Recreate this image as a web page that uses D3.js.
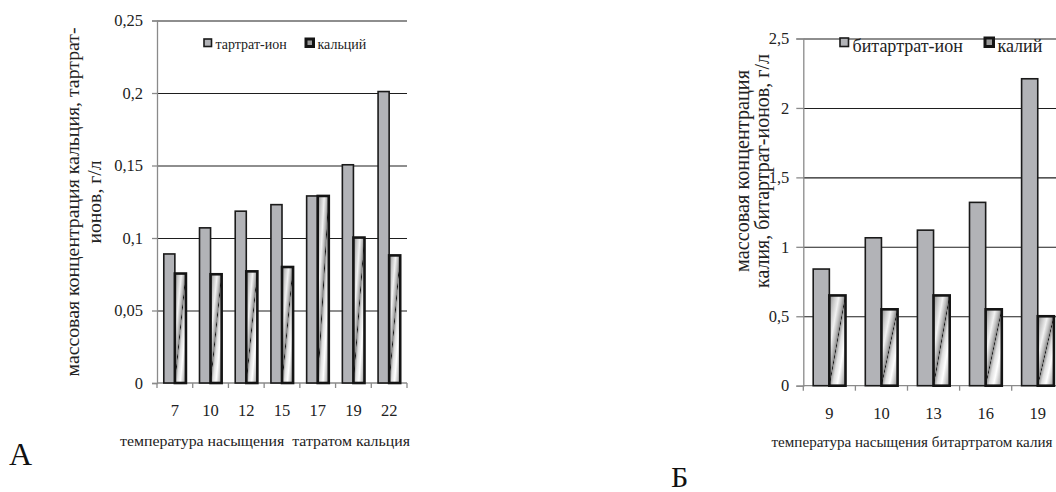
<!DOCTYPE html>
<html><head><meta charset="utf-8">
<script src="https://cdn.jsdelivr.net/npm/d3@7/dist/d3.min.js"></script>
<style>
html,body{margin:0;padding:0;background:#fff;}
svg{display:block;}
svg text{white-space:pre;font-family:"Liberation Serif","DejaVu Serif","Times New Roman",serif !important;}
</style></head>
<body>
<svg id="c" width="1056" height="492"></svg>
<script>
// ---- Chart A data ----
const catsA = ["7","10","12","15","17","19","22"];
const tartrateA = [0.089, 0.107, 0.1185, 0.123, 0.129, 0.1505, 0.201];
const calciumA = [0.0755, 0.075, 0.077, 0.08, 0.129, 0.1003, 0.088];
const ticksA = [0, 0.05, 0.1, 0.15, 0.2, 0.25];
// ---- Chart Б data ----
const catsB = ["9","10","13","16","19"];
const bitartrateB = [0.84, 1.065, 1.12, 1.32, 2.21];
const potassiumB = [0.65, 0.55, 0.65, 0.55, 0.5];
const ticksB = [0, 0.5, 1, 1.5, 2, 2.5];

const fmt = d3.formatLocale({decimal:",", thousands:" ", grouping:[3], currency:["",""]}).format("~g");
const svg = d3.select("#c");
const defs = svg.append("defs");
const grad = defs.append("linearGradient").attr("id","hatch")
  .attr("gradientUnits","objectBoundingBox").attr("x1",0).attr("y1",0).attr("x2",1).attr("y2",1);
[[0,"#8a8a8a"],[0.15,"#c4c4c4"],[0.3,"#f2f2f2"],[0.42,"#b8b8b8"],[0.485,"#8c8c8c"],[0.5,"#111111"],[0.515,"#9a9a9a"],
 [0.6,"#dedede"],[0.74,"#ffffff"],[0.88,"#c2c2c2"],[1,"#8e8e8e"]].forEach(([o,c])=>grad.append("stop").attr("offset",o).attr("stop-color",c));

function chart(cfg){
  const g = svg.append("g");
  const x = d3.scaleBand().domain(cfg.cats).range([cfg.x0, cfg.x1]);
  const y = d3.scaleLinear().domain([0, cfg.ticks[cfg.ticks.length-1]]).range([cfg.y0, cfg.yTop]);
  const bw = x.bandwidth(), barW = bw*0.31;
  // gridlines
  g.append("g").attr("transform",`translate(${cfg.x0},0)`)
    .call(d3.axisLeft(y).tickValues(cfg.ticks.slice(1)).tickSize(-(cfg.gridEnd-cfg.x0)).tickFormat(""))
    .call(s=>s.select(".domain").remove())
    .call(s=>s.selectAll("line").attr("stroke","#1e1e1e").attr("stroke-width",1.1));
  // y axis
  g.append("g").attr("transform",`translate(${cfg.x0},0)`)
    .call(d3.axisLeft(y).tickValues(cfg.ticks).tickSize(cfg.tick).tickPadding(cfg.pad).tickFormat(fmt))
    .call(s=>s.select(".domain").attr("stroke","#8a8a8a").attr("stroke-width",1.3))
    .call(s=>s.selectAll("line").attr("stroke","#8a8a8a").attr("stroke-width",1.3))
    .call(s=>s.selectAll("text").attr("font-size",cfg.tickFs).attr("fill","#222"));
  // x axis line + boundary ticks
  g.append("line").attr("x1",cfg.x0).attr("x2",cfg.gridEnd).attr("y1",y(0)).attr("y2",y(0))
    .attr("stroke","#8a8a8a").attr("stroke-width",1.3);
  const bounds = cfg.cats.map(c=>x(c)).concat([cfg.x1]);
  g.selectAll(".bt").data(bounds).join("line").attr("x1",d=>d).attr("x2",d=>d)
    .attr("y1",y(0)).attr("y2",y(0)+5).attr("stroke","#8a8a8a").attr("stroke-width",1.3);
  g.append("g").attr("transform",`translate(0,${y(0)})`)
    .call(d3.axisBottom(x).tickSize(0).tickPadding(cfg.xPad))
    .call(s=>s.select(".domain").remove())
    .call(s=>s.selectAll("text").attr("font-size",cfg.tickFs).attr("fill","#222"));
  // bars
  g.selectAll(".b1").data(cfg.cats).join("rect")
    .attr("x",(c)=>x(c)+bw/2-barW).attr("width",barW)
    .attr("y",(c,i)=>y(cfg.s1[i])).attr("height",(c,i)=>y(0)-y(cfg.s1[i]))
    .attr("fill","#b2b3b7").attr("stroke","#1a1a1a").attr("stroke-width",1.6);
  g.selectAll(".b2").data(cfg.cats).join("rect")
    .attr("x",(c)=>x(c)+bw/2).attr("width",barW)
    .attr("y",(c,i)=>y(cfg.s2[i])).attr("height",(c,i)=>y(0)-y(cfg.s2[i]))
    .attr("fill","url(#hatch)").attr("stroke","#141414").attr("stroke-width",2.6);
  // legend
  const L = cfg.legend;
  g.append("rect").attr("x",L.x1).attr("y",L.sy).attr("width",L.s).attr("height",L.s)
    .attr("fill","#b2b3b7").attr("stroke","#1a1a1a").attr("stroke-width",1.6);
  g.append("text").attr("x",L.x1+L.s+4).attr("y",L.by).attr("font-size",L.fs).attr("fill","#222").text(cfg.n1);
  g.append("rect").attr("x",L.x2).attr("y",L.sy).attr("width",L.s).attr("height",L.s)
    .attr("fill","#9a9a9a").attr("stroke","#141414").attr("stroke-width",3);
  g.append("text").attr("x",L.x2+L.s+4).attr("y",L.by).attr("font-size",L.fs).attr("fill","#222").text(cfg.n2);
  // y title
  cfg.ytitle.forEach((t,i)=>{
    g.append("text").attr("transform",`translate(${cfg.ytX[i]},${cfg.ytY}) rotate(-90)`)
      .attr("text-anchor","middle").attr("font-size",cfg.ytFs).attr("fill","#222")
      .attr("textLength",cfg.ytLen[i]).attr("lengthAdjust","spacingAndGlyphs").text(t);
  });
  // x title
  g.append("text").attr("x",cfg.xtX).attr("y",cfg.xtY).attr("text-anchor","middle")
    .attr("font-size",cfg.xtFs).attr("fill","#222")
    .attr("textLength",cfg.xtLen).attr("lengthAdjust","spacingAndGlyphs").text(cfg.xtitle);
  // panel letter
  g.append("text").attr("x",cfg.letter[0]).attr("y",cfg.letter[1]).attr("font-size",cfg.letter[3]).attr("fill","#111").text(cfg.letter[2]);
}

chart({cats:catsA, s1:tartrateA, s2:calciumA, ticks:ticksA,
  x0:157, x1:407, gridEnd:407, y0:383, yTop:20.5, tick:5, pad:9, xPad:21, tickFs:16.5,
  n1:"тартрат-ион", n2:"кальций",
  legend:{x1:204, x2:306, sy:39, s:7.5, by:48.5, fs:14},
  ytitle:["массовая концентрация кальция, тартрат-","ионов, г/л"], ytX:[79,101], ytY:202, ytFs:19, ytLen:[349,83],
  xtitle:"температура насыщения  татратом кальция", xtX:265, xtY:446, xtFs:15.5, xtLen:290,
  letter:[9,465,"А",32]});

chart({cats:catsB, s1:bitartrateB, s2:potassiumB, ticks:ticksB,
  x0:803.3, x1:1063.8, gridEnd:1063.8, y0:385.7, yTop:38.5, tick:7, pad:7, xPad:22, tickFs:16.5,
  n1:"битартрат-ион", n2:"калий",
  legend:{x1:840, x2:985, sy:38, s:8.5, by:51.5, fs:18},
  ytitle:["массовая концентрация","калия, битартрат-ионов, г/л"], ytX:[749,768.5], ytY:171, ytFs:20, ytLen:[202,234],
  xtitle:"температура насыщения битартратом калия", xtX:912, xtY:447, xtFs:14.7, xtLen:281,
  letter:[671,487,"Б",30]});
</script>
</body></html>
